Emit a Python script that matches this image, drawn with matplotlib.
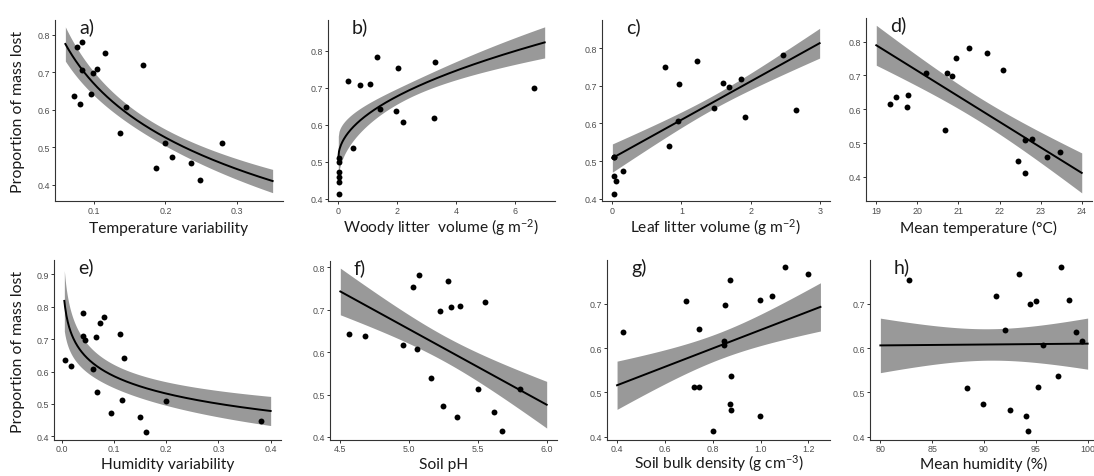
import numpy as np
import matplotlib
matplotlib.use("Agg")
import matplotlib.pyplot as plt

plt.rcParams["mathtext.fontset"] = "custom"
plt.rcParams["mathtext.rm"] = "Lato"
plt.rcParams["mathtext.it"] = "Lato:italic"
plt.rcParams["mathtext.default"] = "regular"

LABEL_FONT = "Lato"
TICK_FONT = "Liberation Sans"

# ---- observations (proportion of mass lost vs. each predictor) ----
temp_var_x = [0.0725, 0.0767, 0.0832, 0.080, 0.0832, 0.0963, 0.0986, 0.104, 0.115,
              0.169, 0.145, 0.137, 0.199, 0.187, 0.209, 0.236, 0.248, 0.279]
temp_var_y = [0.636, 0.767, 0.780, 0.616, 0.705, 0.642, 0.698, 0.708, 0.751,
              0.718, 0.606, 0.538, 0.512, 0.446, 0.473, 0.458, 0.413, 0.511]

woody_x = [0.02, 0.02, 0.02, 0.02, 0.02, 0.02, 0.325, 0.75, 1.065, 1.32, 1.40, 0.50,
           1.96, 2.03, 2.21, 3.23, 3.28, 6.64]
woody_y = [0.511, 0.500, 0.472, 0.459, 0.446, 0.412, 0.719, 0.708, 0.710, 0.784, 0.642,
           0.538, 0.637, 0.752, 0.608, 0.617, 0.768, 0.698]

leaf_x = [0.024, 0.030, 0.024, 0.048, 0.024, 0.159, 0.756, 0.968, 0.949, 0.814, 1.228,
          1.468, 1.598, 1.690, 1.863, 1.921, 2.475, 2.663]
leaf_y = [0.511, 0.512, 0.460, 0.448, 0.413, 0.474, 0.751, 0.706, 0.607, 0.539, 0.766,
          0.642, 0.708, 0.697, 0.717, 0.616, 0.781, 0.636]

mean_temp_x = [19.34, 19.49, 19.77, 19.75, 20.20, 20.72, 20.85, 20.94, 21.25, 21.69,
               22.08, 20.67, 22.63, 22.78, 22.46, 22.63, 23.16, 23.48]
mean_temp_y = [0.616, 0.636, 0.641, 0.607, 0.708, 0.706, 0.698, 0.752, 0.782, 0.767,
               0.717, 0.538, 0.510, 0.511, 0.446, 0.412, 0.458, 0.474]

hum_var_x = [0.0064, 0.018, 0.041, 0.041, 0.045, 0.059, 0.065, 0.073, 0.081, 0.068,
             0.094, 0.112, 0.119, 0.116, 0.149, 0.162, 0.199, 0.382]
hum_var_y = [0.636, 0.616, 0.781, 0.709, 0.697, 0.608, 0.706, 0.750, 0.767, 0.538,
             0.472, 0.717, 0.641, 0.512, 0.459, 0.413, 0.510, 0.447]

ph_x = [4.565, 4.678, 4.957, 5.055, 5.031, 5.072, 5.161, 5.226, 5.286, 5.308, 5.370,
        5.243, 5.349, 5.555, 5.502, 5.615, 5.673, 5.803]
ph_y = [0.643, 0.637, 0.617, 0.608, 0.753, 0.782, 0.539, 0.698, 0.768, 0.707, 0.709,
        0.474, 0.448, 0.718, 0.513, 0.459, 0.413, 0.512]

bulk_x = [0.425, 0.687, 0.742, 0.722, 0.744, 0.800, 0.847, 0.847, 0.852, 0.871, 0.877,
          0.871, 0.877, 0.997, 1.049, 0.997, 1.100, 1.200]
bulk_y = [0.636, 0.707, 0.642, 0.513, 0.511, 0.412, 0.616, 0.607, 0.698, 0.753, 0.538,
          0.473, 0.459, 0.708, 0.717, 0.447, 0.782, 0.768]

mean_hum_x = [82.73, 88.38, 89.89, 91.14, 92.04, 92.52, 93.42, 94.09, 94.25, 94.45,
              95.06, 95.25, 95.73, 97.17, 97.46, 98.23, 98.91, 99.45]
mean_hum_y = [0.753, 0.510, 0.473, 0.718, 0.641, 0.459, 0.768, 0.447, 0.412, 0.699,
              0.707, 0.512, 0.607, 0.538, 0.782, 0.708, 0.636, 0.616]

# ---- fitted models: y = intercept + slope * t(x); CI half-width sqrt(h0^2 + k^2 (t - t0)^2) ----
fit_range = [(0.06, 0.35), (0.0, 7.0), (0.0, 3.0), (19.0, 24.0),
             (0.005, 0.40), (4.5, 6.0), (0.40, 1.25), (80.0, 100.0)]
fit_transform = ["log", "sqrt", "lin", "lin", "log", "lin", "lin", "lin"]
fit_intercept = [0.193, 0.510, 0.508, 0.789 + 0.0754 * 19, 0.407, 0.743 + 0.178 * 4.5,
                 0.516 - 0.2082 * 0.4, 0.606 - 0.0002 * 80]
fit_slope = [-0.2068, 0.118, 0.1017, -0.0754, -0.0776, -0.178, 0.2082, 0.0002]
ci_h0 = [0.022, 0.020, 0.018, 0.035, 0.035, 0.030, 0.030, 0.0355]
ci_k = [0.035, 0.0349, 0.0227, 0.019, 0.0263, 0.0615, 0.107, 0.00479]
ci_t0 = [-1.674, 1.589, 1.45, 21.5, -1.99, 5.25, 0.825, 90.5]

# ---- axis text ----
panel_letters = ["a)", "b)", "c)", "d)", "e)", "f)", "g)", "h)"]
x_labels = ["Temperature variability", "Woody litter  volume (g m$^{-2}$)",
            "Leaf litter volume (g m$^{-2}$)", "Mean temperature (\u00b0C)",
            "Humidity variability", "Soil pH", "Soil bulk density (g cm$^{-3}$)",
            "Mean humidity (%)"]
y_label = "Proportion of mass lost"
x_ticks = [[0.1, 0.2, 0.3], [0, 2, 4, 6], [0, 1, 2, 3], [19, 20, 21, 22, 23, 24],
           [0.0, 0.1, 0.2, 0.3, 0.4], [4.5, 5.0, 5.5, 6.0], [0.4, 0.6, 0.8, 1.0, 1.2],
           [80, 85, 90, 95, 100]]
x_tick_labels = [["0.1", "0.2", "0.3"], ["0", "2", "4", "6"], ["0", "1", "2", "3"],
                 ["19", "20", "21", "22", "23", "24"], ["0.0", "0.1", "0.2", "0.3", "0.4"],
                 ["4.5", "5.0", "5.5", "6.0"], ["0.4", "0.6", "0.8", "1.0", "1.2"],
                 ["80", "85", "90", "95", "100"]]
y_ticks = [[0.4, 0.5, 0.6, 0.7, 0.8]] * 4 + [[0.4, 0.5, 0.6, 0.7, 0.8, 0.9],
                                               [0.4, 0.5, 0.6, 0.7, 0.8],
                                               [0.4, 0.5, 0.6, 0.7], [0.4, 0.5, 0.6, 0.7]]

xs = [temp_var_x, woody_x, leaf_x, mean_temp_x, hum_var_x, ph_x, bulk_x, mean_hum_x]
ys = [temp_var_y, woody_y, leaf_y, mean_temp_y, hum_var_y, ph_y, bulk_y, mean_hum_y]

# ---- layout (pixels of a 1094 x 477 canvas) ----
W, H = 1094, 477
panel_px = [(55, 20.5, 283, 202), (328, 20.5, 555, 202), (602, 20.5, 830, 202),
            (866, 18.5, 1092, 202),
            (54, 260.5, 281, 440.5), (330, 261.5, 557, 440.5), (607, 260.5, 830, 440.5),
            (870, 260.5, 1098, 440.5)]
xlabel_baseline_px = [233, 233, 233, 233, 469, 469, 469, 469]
x_lims = [(0.0455, 0.3645), (-0.35, 7.35), (-0.15, 3.15), (18.75, 24.25),
          (-0.0148, 0.4198), (4.425, 6.075), (0.358, 1.29), (79, 101)]
y_lims = [(0.357, 0.840), (0.394, 0.884), (0.394, 0.876), (0.329, 0.871),
          (0.390, 0.946), (0.394, 0.816), (0.3935, 0.800), (0.3935, 0.800)]

AXIS_COLOR = "#333333"
TICK_TEXT = "#4d4d4d"
RIBBON = "#999999"
TEXT = "#1a1a1a"

transforms = {"log": np.log, "sqrt": np.sqrt, "lin": lambda v: v}

fig = plt.figure(figsize=(W / 100, H / 100), dpi=100)

for i in range(8):
    x0, y0, x1, y1 = panel_px[i]
    ax = fig.add_axes([x0 / W, 1 - y1 / H, (x1 - x0) / W, (y1 - y0) / H])

    lo, hi = fit_range[i]
    xg = np.linspace(lo, hi, 300)
    t = transforms[fit_transform[i]](xg)
    yhat = fit_intercept[i] + fit_slope[i] * t
    hw = np.sqrt(ci_h0[i] ** 2 + ci_k[i] ** 2 * (t - ci_t0[i]) ** 2)
    ax.fill_between(xg, yhat - hw, yhat + hw, color=RIBBON, lw=0, zorder=1)
    ax.plot(xg, yhat, color="black", lw=1.4, zorder=2)
    ax.scatter(xs[i], ys[i], s=18, color="black", lw=0, zorder=3)

    ax.set_xlim(*x_lims[i])
    ax.set_ylim(*y_lims[i])
    ax.set_xticks(x_ticks[i])
    ax.set_xticklabels(x_tick_labels[i])
    ax.set_yticks(y_ticks[i])
    ax.set_yticklabels([f"{v:.1f}" for v in y_ticks[i]])
    for s in ("top", "right"):
        ax.spines[s].set_visible(False)
    for s in ("left", "bottom"):
        ax.spines[s].set_color(AXIS_COLOR)
        ax.spines[s].set_linewidth(0.8)
    ax.tick_params(length=2.2, width=0.7, color=AXIS_COLOR, labelcolor=TICK_TEXT,
                   labelsize=6.4, pad=1.2)
    for lab in ax.get_xticklabels() + ax.get_yticklabels():
        lab.set_fontfamily(TICK_FONT)

    hpx = y1 - y0
    ax.text(0.5, -(xlabel_baseline_px[i] - y1) / hpx, x_labels[i], transform=ax.transAxes,
            fontsize=11.2, family=LABEL_FONT, color=TEXT, ha="center", va="baseline")
    ax.text(24 / (x1 - x0), 1 - 7 / hpx, panel_letters[i], transform=ax.transAxes,
            fontsize=14, family=LABEL_FONT, va="center", ha="left", color=TEXT)

for yc in (112, 352):
    fig.text(18 / W, 1 - yc / H, y_label, rotation=90, fontsize=11.4, family=LABEL_FONT,
             color=TEXT, ha="center", va="center")

fig.savefig("out.png", dpi=100)
